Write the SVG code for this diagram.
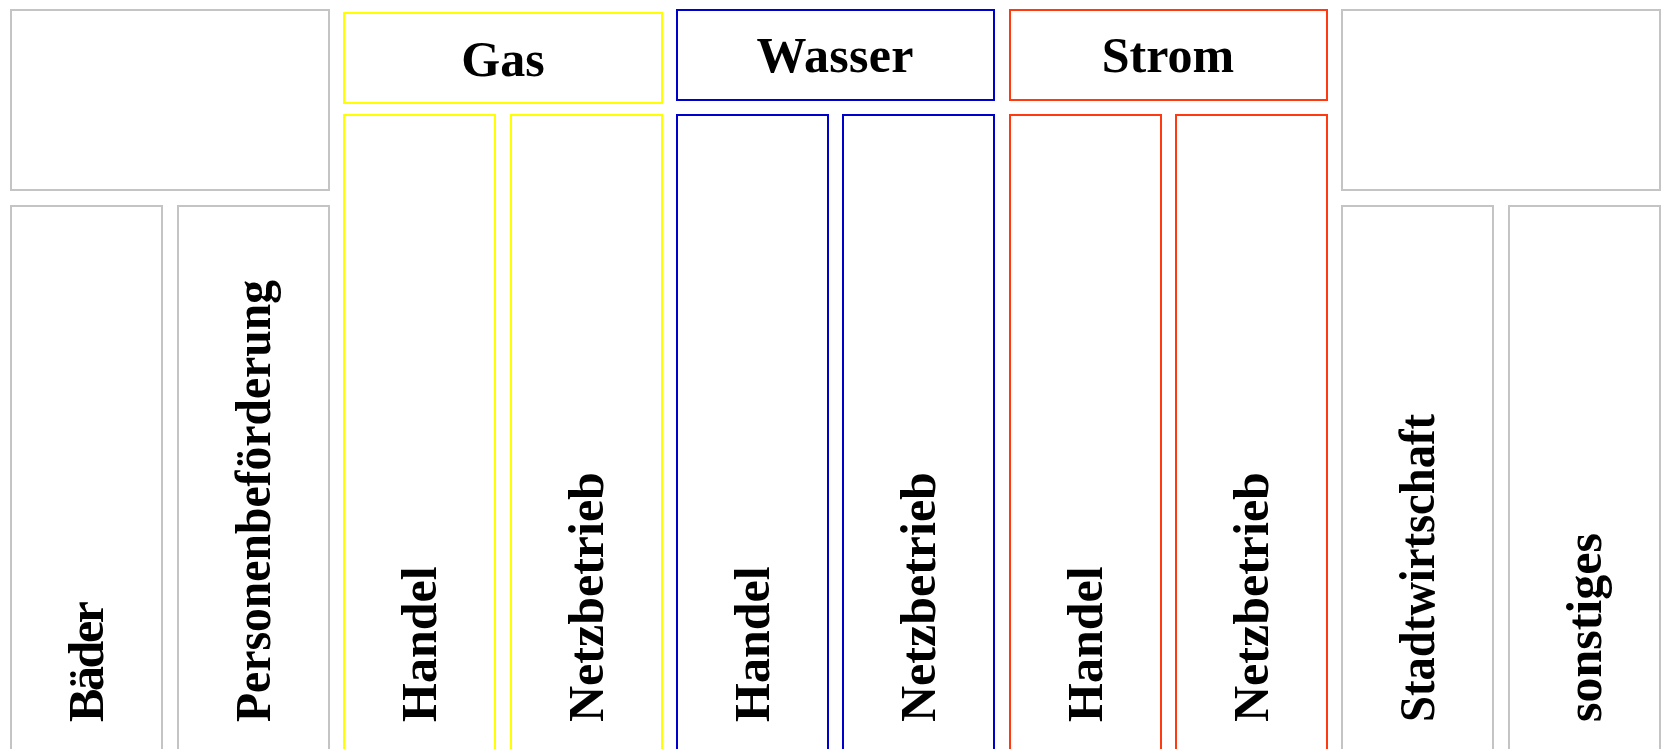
<svg xmlns="http://www.w3.org/2000/svg" width="1663" height="749" viewBox="0 0 1663 749">
<style>
rect{fill:#ffffff;stroke-width:2}
.g{stroke:#c4c4c4}
.y{stroke:#ffff00}
.b{stroke:#0000cc}
.r{stroke:#ff3a10}
text{font-family:"Liberation Serif","Times New Roman",serif;font-weight:bold;font-size:50px;fill:#000000}
.h{text-anchor:middle}
</style>
<rect x="0" y="0" width="1663" height="749" style="fill:#ffffff;stroke:none"/>
<g id="gray-left-header"><rect class="g" x="11" y="10" width="318" height="180"/></g>
<g id="baeder"><rect class="g" x="11" y="206" width="151" height="560"/><text transform="translate(103,722) rotate(-90)" textLength="121" lengthAdjust="spacing">Bäder</text></g>
<g id="personenbefoerderung"><rect class="g" x="178" y="206" width="151" height="560"/><text transform="translate(270,722) rotate(-90)" textLength="442" lengthAdjust="spacingAndGlyphs">Personenbeförderung</text></g>
<g id="gas"><rect class="y" x="344" y="13" width="318" height="90"/><text class="h" x="503" y="76">Gas</text></g>
<g id="gas-handel"><rect class="y" x="344" y="115" width="151" height="650"/><text transform="translate(436,722) rotate(-90)">Handel</text></g>
<g id="gas-netzbetrieb"><rect class="y" x="511" y="115" width="151" height="650"/><text transform="translate(603,722) rotate(-90)">Netzbetrieb</text></g>
<g id="wasser"><rect class="b" x="677" y="10" width="317" height="90"/><text class="h" x="835" y="72" textLength="157" lengthAdjust="spacing">Wasser</text></g>
<g id="wasser-handel"><rect class="b" x="677" y="115" width="151" height="650"/><text transform="translate(769,722) rotate(-90)">Handel</text></g>
<g id="wasser-netzbetrieb"><rect class="b" x="843" y="115" width="151" height="650"/><text transform="translate(935,722) rotate(-90)">Netzbetrieb</text></g>
<g id="strom"><rect class="r" x="1010" y="10" width="317" height="90"/><text class="h" x="1168" y="72">Strom</text></g>
<g id="strom-handel"><rect class="r" x="1010" y="115" width="151" height="650"/><text transform="translate(1102,722) rotate(-90)">Handel</text></g>
<g id="strom-netzbetrieb"><rect class="r" x="1176" y="115" width="151" height="650"/><text transform="translate(1268,722) rotate(-90)">Netzbetrieb</text></g>
<g id="gray-right-header"><rect class="g" x="1342" y="10" width="318" height="180"/></g>
<g id="stadtwirtschaft"><rect class="g" x="1342" y="206" width="151" height="560"/><text transform="translate(1434,722) rotate(-90)" textLength="308" lengthAdjust="spacingAndGlyphs">Stadtwirtschaft</text></g>
<g id="sonstiges"><rect class="g" x="1509" y="206" width="151" height="560"/><text transform="translate(1601,722) rotate(-90)">sonstiges</text></g>
<g id="connectors"></g>
</svg>
